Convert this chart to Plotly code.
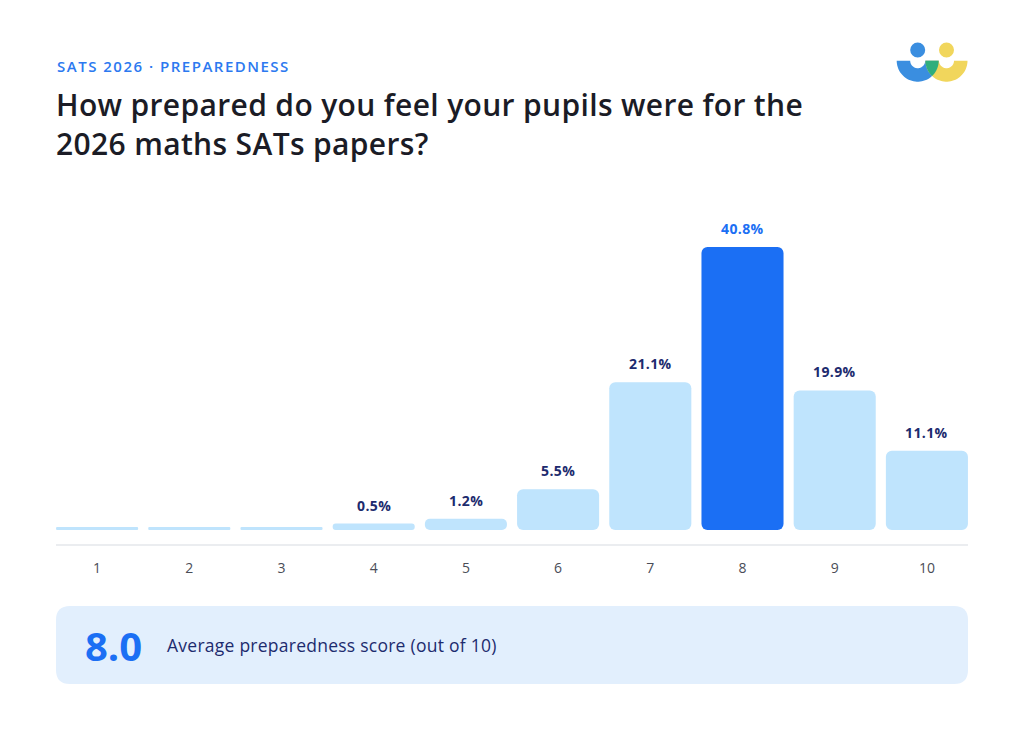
import numpy as np
import plotly.graph_objects as go

W, H = 1024, 742

categories = ["1", "2", "3", "4", "5", "6", "7", "8", "9", "10"]
values = [0.0, 0.0, 0.0, 0.5, 1.2, 5.5, 21.1, 40.8, 19.9, 11.1]
highlight = "8"
average_score = 8.0
eyebrow = "SATS 2026 · PREPAREDNESS"
title_lines = ["How prepared do you feel your pupils were for the", "2026 maths SATs papers?"]
avg_label = "Average preparedness score (out of 10)"

FONT = "Open Sans, Lato, sans-serif"
LIGHT = "#bfe4fd"
BLUE = "#1b6ff4"
NAVY = "#1d2b6e"


def px(x):
    return x / W


def py(y):
    return 1 - y / H


def spaced(t, ls):
    return f'<span style="letter-spacing:{ls}px">{t}</span>'


# min visible stub for zero bars, in data units
stub = 0.44
k = 6.86  # px per unit
bar_bottom_px = 530
plot_top_px = 200
ymax = (bar_bottom_px - plot_top_px) / k - stub

colors = [BLUE if c == highlight else LIGHT for c in categories]

fig = go.Figure()
fig.add_trace(go.Bar(
    x=categories,
    y=[v + stub for v in values],
    base=[-stub] * len(values),
    marker=dict(color=colors, cornerradius=6, line=dict(width=0)),
    hoverinfo="skip",
))

annotations = []
for i, (c, v) in enumerate(zip(categories, values)):
    if v > 0:
        annotations.append(dict(
            x=i, y=v, xref="x", yref="y", text=spaced(f"<b>{v:.1f}%</b>", 0.4),
            showarrow=False, yanchor="bottom", yshift=7,
            font=dict(family=FONT, size=14, color=BLUE if c == highlight else NAVY),
        ))

# header texts
annotations.append(dict(x=px(55), y=py(66), xref="paper", yref="paper", xanchor="left", yanchor="middle",
                        text=spaced(eyebrow, 1.5), showarrow=False,
                        font=dict(family=FONT, size=15, color="#2c79f0", weight=600)))
annotations.append(dict(x=px(54), y=py(124), xref="paper", yref="paper", xanchor="left", yanchor="middle",
                        text=spaced("<br>".join(title_lines), 0.35), showarrow=False, align="left",
                        font=dict(family=FONT, size=30, color="#1b1c26", weight=600)))
# average box texts
annotations.append(dict(x=px(83), y=py(645), xref="paper", yref="paper", xanchor="left", yanchor="middle",
                        text=f"<b>{average_score:.1f}</b>", showarrow=False,
                        font=dict(family=FONT, size=40, color=BLUE)))
annotations.append(dict(x=px(165), y=py(645), xref="paper", yref="paper", xanchor="left", yanchor="middle",
                        text=spaced(avg_label, 0.25), showarrow=False,
                        font=dict(family=FONT, size=17.5, color=NAVY, weight=500)))

shapes = []
# card
shapes.append(dict(type="rect", xref="paper", yref="paper", x0=0, x1=1, y0=0, y1=1,
                   fillcolor="white", line=dict(width=0), layer="below"))
# axis line
shapes.append(dict(type="line", xref="paper", yref="paper", x0=px(56), x1=px(968), y0=py(545), y1=py(545),
                   line=dict(color="#e5e7eb", width=1.5)))


def rrect(x0, y0, x1, y1, r):
    p = (f"M {px(x0+r)},{py(y0)} L {px(x1-r)},{py(y0)} "
         f"Q {px(x1)},{py(y0)} {px(x1)},{py(y0+r)} L {px(x1)},{py(y1-r)} "
         f"Q {px(x1)},{py(y1)} {px(x1-r)},{py(y1)} L {px(x0+r)},{py(y1)} "
         f"Q {px(x0)},{py(y1)} {px(x0)},{py(y1-r)} L {px(x0)},{py(y0+r)} "
         f"Q {px(x0)},{py(y0)} {px(x0+r)},{py(y0)} Z")
    return p


# average box
shapes.append(dict(type="path", xref="paper", yref="paper", path=rrect(56, 606, 968, 684, 14),
                   fillcolor="#e2effd", line=dict(width=0), layer="below"))


# logo
def poly(points):
    s = "M " + " L ".join(f"{px(x):.5f},{py(y):.5f}" for x, y in points) + " Z"
    return s


def circle_pts(cx, cy, r, a0, a1, n=40):
    t = np.linspace(a0, a1, n)
    return [(cx + r * np.cos(a), cy + r * np.sin(a)) for a in t]


R_OUT, R_IN = 21, 7.5
bx, yx, cy = 917.7, 946.5, 60.7
for cx, col in [(bx, "#3a8ee0"), (yx, "#f1d65c")]:
    pts = circle_pts(cx, cy, R_OUT, 0, np.pi) + circle_pts(cx, cy, R_IN, np.pi, 0)
    shapes.append(dict(type="path", xref="paper", yref="paper", path=poly(pts),
                       fillcolor=col, line=dict(width=0)))
    shapes.append(dict(type="circle", xref="paper", yref="paper",
                       x0=px(cx - 7.5), x1=px(cx + 7.5), y0=py(50 + 7.5), y1=py(50 - 7.5),
                       fillcolor=col, line=dict(width=0)))
# green overlap lens (lower half)
d = yx - bx
xm = (bx + yx) / 2
hh = np.sqrt(R_OUT ** 2 - (d / 2) ** 2)
a_y = np.arctan2(hh, xm - yx)
a_b = np.arctan2(hh, xm - bx)
lens = circle_pts(yx, cy, R_OUT, np.pi, a_y) + circle_pts(bx, cy, R_OUT, a_b, 0)
shapes.append(dict(type="path", xref="paper", yref="paper", path=poly(lens),
                   fillcolor="#2fae7c", line=dict(width=0)))

fig.update_layout(
    width=W, height=H,
    margin=dict(l=0, r=0, t=0, b=0),
    paper_bgcolor="#f5f6f7",
    plot_bgcolor="rgba(0,0,0,0)",
    showlegend=False,
    bargap=0.11,
    font=dict(family=FONT),
    xaxis=dict(type="category", domain=[px(51), px(973)], range=[-0.5, len(categories) - 0.5],
               showgrid=False, zeroline=False, showline=False,
               ticks="", tickfont=dict(family=FONT, size=14, color="#4a4d57"),
               ticklabelstandoff=28, fixedrange=True),
    yaxis=dict(domain=[py(bar_bottom_px), py(plot_top_px)], range=[-stub, ymax],
               visible=False, fixedrange=True),
    annotations=annotations,
    shapes=shapes,
)

fig.write_html("out.html", config={"displayModeBar": False})
